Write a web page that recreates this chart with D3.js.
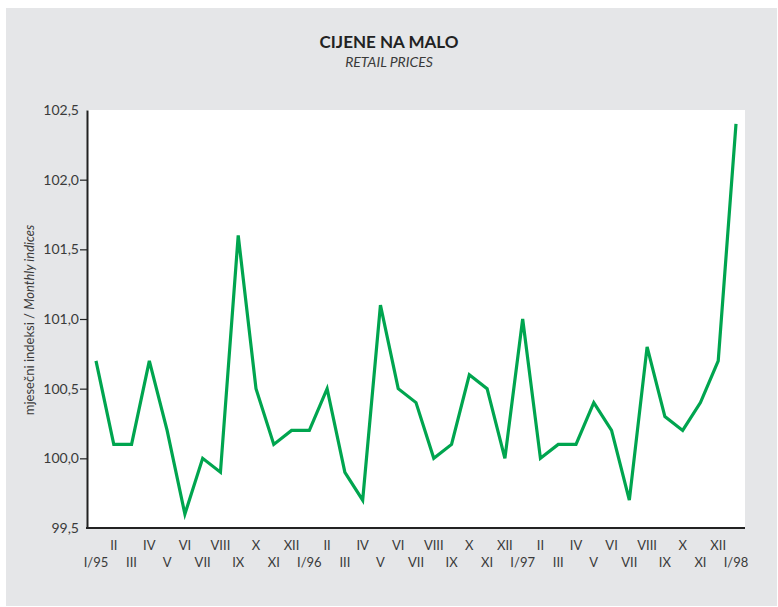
<!DOCTYPE html>
<html>
<head>
<meta charset="utf-8">
<script src="https://cdn.jsdelivr.net/npm/d3@7"></script>
<style>
  body { margin: 0; background: #fff; }
  svg text { font-family: "Lato", "Open Sans", sans-serif; fill: #3a3a3a; }
</style>
</head>
<body>
<div id="chart"></div>
<script>
// months, I/95 .. I/98
var months = ["I/95","II","III","IV","V","VI","VII","VIII","IX","X","XI","XII",
  "I/96","II","III","IV","V","VI","VII","VIII","IX","X","XI","XII",
  "I/97","II","III","IV","V","VI","VII","VIII","IX","X","XI","XII",
  "I/98"];

// monthly indices
var indices = [100.7,100.1,100.1,100.7,100.2,99.6,100.0,99.9,101.6,100.5,100.1,100.2,
  100.2,100.5,99.9,99.7,101.1,100.5,100.4,100.0,100.1,100.6,100.5,100.0,
  101.0,100.0,100.1,100.1,100.4,100.2,99.7,100.8,100.3,100.2,100.4,100.7,
  102.4];

var yTicks = [99.5, 100.0, 100.5, 101.0, 101.5, 102.0, 102.5];

var width = 778, height = 607;
var plot = { left: 87, right: 745, top: 110, bottom: 528 };

var svg = d3.select("#chart").append("svg")
    .attr("width", width)
    .attr("height", height);

// grey panel
svg.append("rect")
    .attr("x", 6).attr("y", 8)
    .attr("width", 771).attr("height", 598)
    .style("fill", "#e5e6e8");

// white plot area
svg.append("rect")
    .attr("x", plot.left).attr("y", plot.top)
    .attr("width", plot.right - plot.left)
    .attr("height", plot.bottom - plot.top)
    .style("fill", "#fff");

var x = d3.scalePoint()
    .domain(d3.range(months.length))
    .range([96, 736]);

var y = d3.scaleLinear()
    .domain([99.5, 102.5])
    .range([plot.bottom, plot.top]);

var fmt = function (d) { return d3.format(".1f")(d).replace(".", ","); };

// y axis
var yAxis = svg.append("g")
    .attr("transform", "translate(" + plot.left + ",0)")
    .call(d3.axisLeft(y).tickValues(yTicks).tickFormat(fmt).tickSize(7).tickSizeOuter(0));
yAxis.select(".domain").style("stroke", "#222").style("stroke-width", 2);
yAxis.selectAll(".tick line").style("stroke", "#222").style("stroke-width", 1.2);
yAxis.selectAll(".tick text")
    .attr("x", -8)
    .style("font-size", "14px")
    .style("fill", "#3a3a3a");
// no tick on the base line
yAxis.selectAll(".tick").filter(function (d) { return d === 99.5 || d === 102.5; })
    .select("line").remove();

// x axis line
svg.append("line")
    .attr("x1", plot.left - 1).attr("x2", plot.right)
    .attr("y1", plot.bottom).attr("y2", plot.bottom)
    .style("stroke", "#222")
    .style("stroke-width", 2);

// month labels, two rows
svg.append("g")
    .selectAll("text")
    .data(months)
    .enter().append("text")
    .attr("x", function (d, i) { return x(i); })
    .attr("y", function (d, i) { return i % 2 === 0 ? 567 : 550; })
    .attr("text-anchor", "middle")
    .style("font-size", "13px")
    .text(function (d) { return d; });

// the line
var line = d3.line()
    .x(function (d, i) { return x(i); })
    .y(function (d) { return y(d); });

svg.append("path")
    .datum(indices)
    .attr("d", line)
    .style("fill", "none")
    .style("stroke", "#00a54f")
    .style("stroke-width", 3.2)
    .style("stroke-linejoin", "miter");

// titles
svg.append("text")
    .attr("x", 389).attr("y", 48)
    .attr("text-anchor", "middle")
    .style("font-size", "17px")
    .style("font-weight", "bold")
    .style("fill", "#222")
    .text("CIJENE NA MALO");

svg.append("text")
    .attr("x", 389).attr("y", 67)
    .attr("text-anchor", "middle")
    .style("font-size", "14px")
    .style("font-style", "italic")
    .text("RETAIL PRICES");

// y label
var yl = svg.append("text")
    .attr("transform", "translate(34,320) rotate(-90)")
    .attr("text-anchor", "middle")
    .style("font-size", "13px");
yl.append("tspan").text("mjesečni indeksi / ");
yl.append("tspan").style("font-style", "italic").text("Monthly indices");
</script>
</body>
</html>
